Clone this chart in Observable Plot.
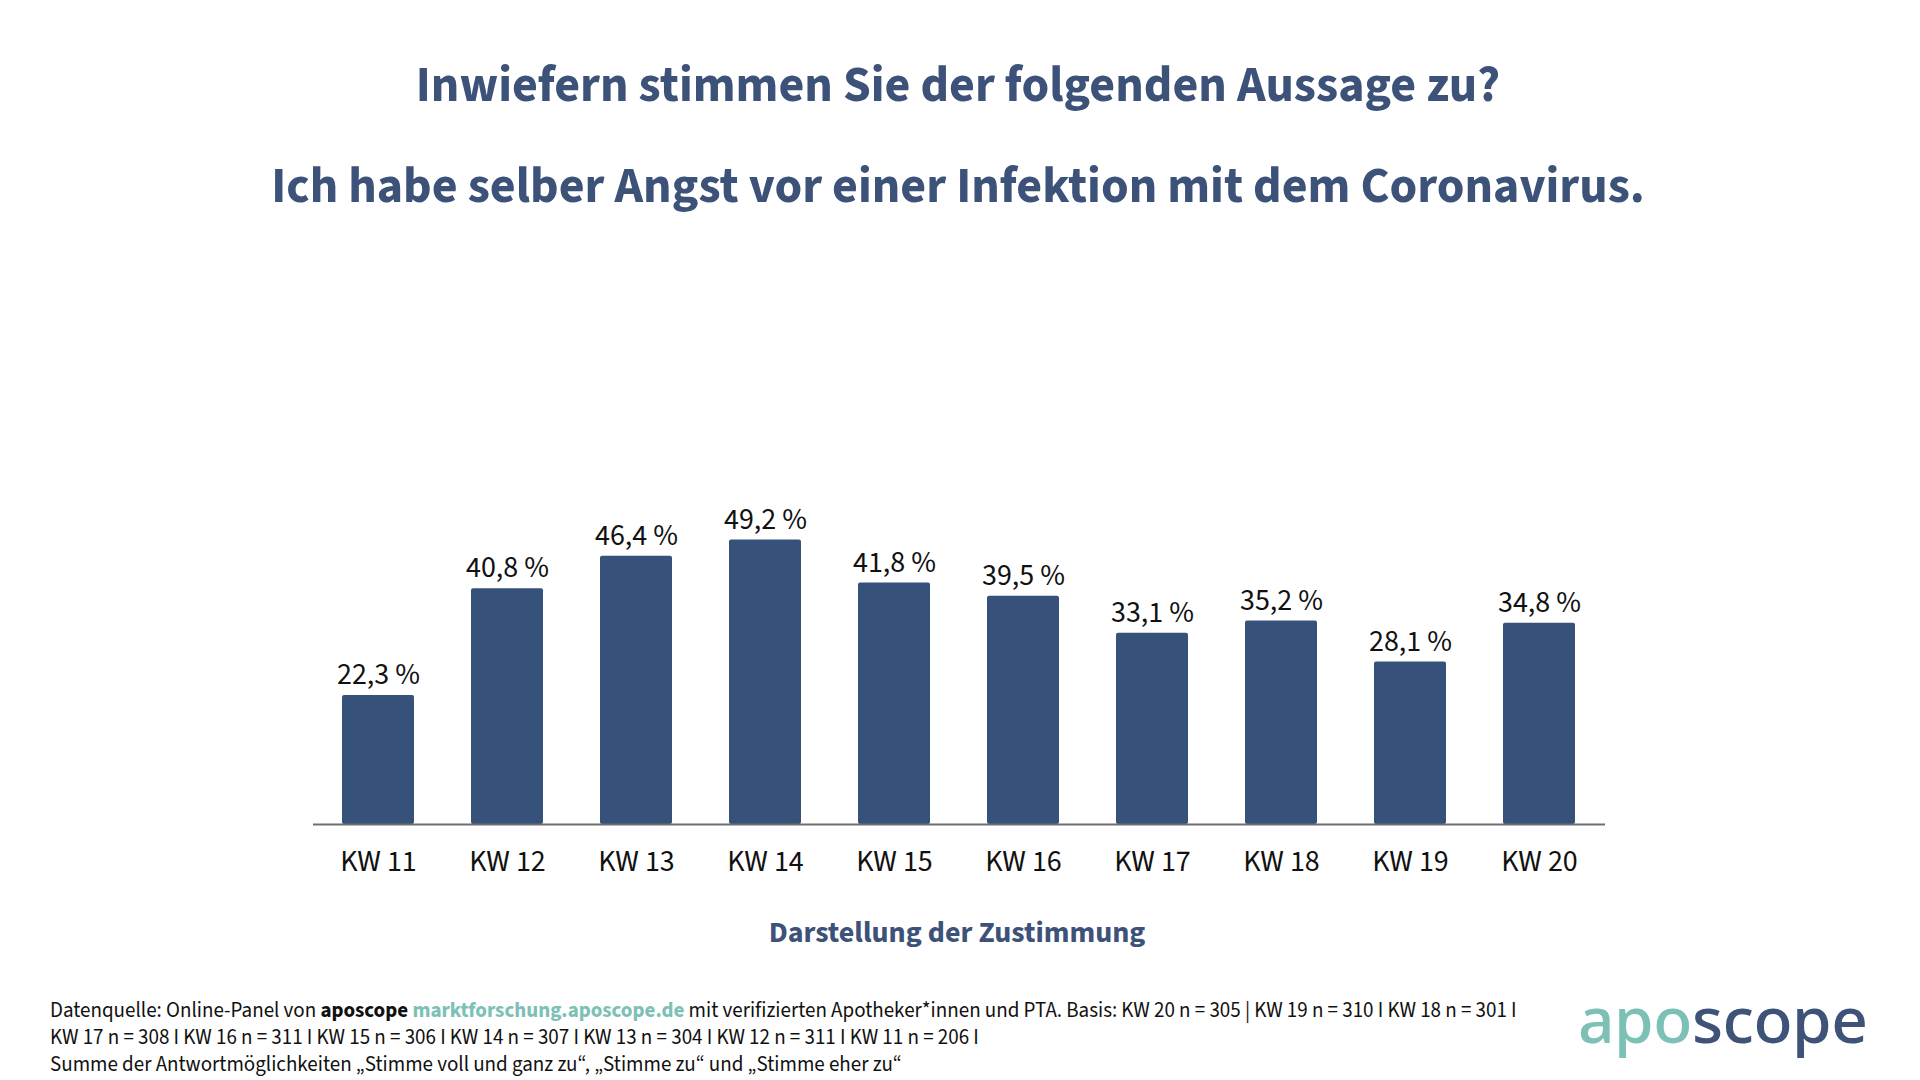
<!DOCTYPE html>
<html>
<head>
<meta charset="utf-8">
<script src="https://cdn.jsdelivr.net/npm/d3@7"></script>
<script src="https://cdn.jsdelivr.net/npm/@observablehq/plot@0.6"></script>
<style>
  html, body { margin: 0; padding: 0; background: #fff; }
  body { width: 1920px; height: 1080px; position: relative; overflow: hidden; font-family: "Source Sans Pro", "Source Sans 3", Lato, sans-serif; }
  .abs { position: absolute; white-space: nowrap; }
  .title { left: 0; width: 1916px; text-align: center; font-weight: 700; font-size: 50px; color: #3d5279; line-height: 60px; }
  .xlabel { left: 0; width: 1914px; text-align: center; font-weight: 700; font-size: 30px; color: #3d5279; line-height: 34px; top: 916px; }
  .foot { left: 50px; font-size: 21px; color: #111; line-height: 27px; top: 997px; }
  .foot b { font-weight: 700; }
  .foot .teal { color: #7cc0b6; font-weight: 700; }
  .logo { left: 1578px; top: 984px; font-family: "Noto Sans", sans-serif; font-size: 64px; line-height: 70px; font-weight: 500; letter-spacing: -0.5px; }
  #chart { position: absolute; left: 0; top: 400px; }
</style>
</head>
<body>
<div class="abs title" style="top:56px">Inwiefern stimmen Sie der folgenden Aussage zu?</div>
<div class="abs title" style="top:157px">Ich habe selber Angst vor einer Infektion mit dem Coronavirus.</div>
<div id="chart"></div>
<div class="abs xlabel">Darstellung der Zustimmung</div>
<div class="abs foot">
  Datenquelle: Online-Panel von <b>aposcope</b> <span class="teal">marktforschung.aposcope.de</span> mit verifizierten Apotheker*innen und PTA. Basis: KW 20 n = 305 | KW 19 n = 310 I KW 18 n = 301 I<br>
  KW 17 n = 308 I KW 16 n = 311 I KW 15 n = 306 I KW 14 n = 307 I KW 13 n = 304 I KW 12 n = 311 I KW 11 n = 206 I<br>
  Summe der Antwortmöglichkeiten „Stimme voll und ganz zu“, „Stimme zu“ und „Stimme eher zu“
</div>
<div class="abs logo"><span style="color:#7cc0b6">apo</span><span style="color:#3f5378">scope</span></div>
<script>
const weeks = ["KW 11", "KW 12", "KW 13", "KW 14", "KW 15", "KW 16", "KW 17", "KW 18", "KW 19", "KW 20"];
const values = [22.3, 40.8, 46.4, 49.2, 41.8, 39.5, 33.1, 35.2, 28.1, 34.8];

const data = weeks.map((w, i) => ({week: w, value: values[i], label: values[i].toFixed(1).replace(".", ",") + " %"}));

const barColor = "#36527a";
const fontFam = '"Source Sans Pro", "Source Sans 3", Lato, sans-serif';

const chart = Plot.plot({
  width: 1920,
  height: 484,
  marginLeft: 313,
  marginRight: 315,
  marginTop: 135,
  marginBottom: 60,
  style: {fontFamily: fontFam, fontSize: "30px", color: "#111", background: "transparent"},
  x: {domain: weeks, paddingInner: 0.44, paddingOuter: 0.22, label: null},
  y: {domain: [0, 50], axis: null},
  marks: [
    Plot.barY(data, {x: "week", y: "value", fill: barColor, rx: 2}),
    Plot.ruleY([0], {stroke: "#6e6e6e", strokeWidth: 2}),
    Plot.text(data, {x: "week", y: "value", text: "label", dy: -21, fontSize: 30, fill: "#111"}),
    Plot.axisX({tickSize: 0, tickPadding: 25, fontSize: 30, fill: "#111", label: null})
  ]
});
document.getElementById("chart").appendChild(chart);
</script>
</body>
</html>
